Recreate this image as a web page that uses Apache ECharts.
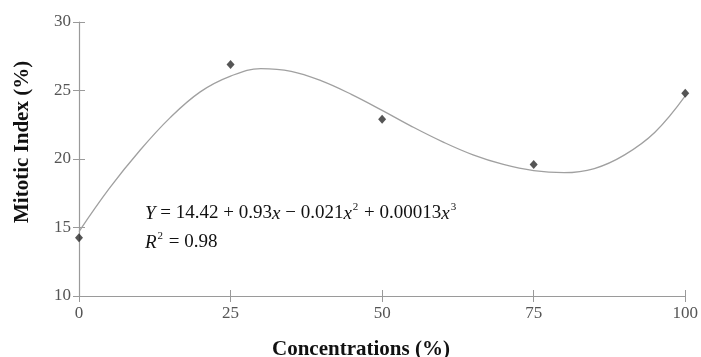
<!DOCTYPE html>
<html>
<head>
<meta charset="utf-8">
<script src="https://cdn.jsdelivr.net/npm/echarts@6/dist/echarts.min.js"></script>
<style>
  html, body { margin: 0; padding: 0; background: #fff; }
  #main { width: 701px; height: 357px; }
</style>
</head>
<body>
<div id="main"></div>
<script>
    // observed points
    var concentrations = [0, 25, 50, 75, 100];
    var mitoticIndex = [14.25, 26.9, 22.9, 19.6, 24.8];

    // fitted curve, every 5%
    var curveX = [0, 5, 10, 15, 20, 25, 30, 35, 40, 45, 50, 55, 60, 65, 70, 75, 80, 85, 90, 95, 100];
    var curveY = [14.7, 17.85, 20.6, 23.0, 24.9, 26.05, 26.6, 26.4, 25.7, 24.7, 23.55, 22.35, 21.25, 20.3, 19.6, 19.15, 19.0, 19.3, 20.3, 21.95, 24.6];

    var xTicks = [0, 25, 50, 75, 100];
    var yTicks = [10, 15, 20, 25, 30];

    var serif = 'Liberation Serif';

    var chart = echarts.init(document.getElementById('main'));

    var pts = concentrations.map(function (c, i) { return [c, mitoticIndex[i]]; });
    var fit = curveX.map(function (c, i) { return [c, curveY[i]]; });

    var axisBase = function (min, max, interval) {
        return {
            type: 'value',
            min: min,
            max: max,
            interval: interval,
            splitLine: { show: false }
        };
    };

    var xMain = axisBase(xTicks[0], xTicks[xTicks.length - 1], 25);
    xMain.axisLine = { lineStyle: { color: '#9a9a9a', width: 1.2 } };
    xMain.axisTick = { length: 6, lineStyle: { color: '#9a9a9a' } };
    xMain.axisLabel = { margin: 9, color: '#555', fontFamily: serif, fontSize: 17 };

    // second axis only to draw the inner half of the ticks
    var xInner = axisBase(xTicks[0], xTicks[xTicks.length - 1], 25);
    xInner.position = 'bottom';
    xInner.axisLine = { show: false };
    xInner.axisTick = { inside: true, length: 6, lineStyle: { color: '#9a9a9a' } };
    xInner.axisLabel = { show: false };

    var yMain = axisBase(yTicks[0], yTicks[yTicks.length - 1], 5);
    yMain.axisLine = { show: true, lineStyle: { color: '#9a9a9a', width: 1.2 } };
    yMain.axisTick = { show: true, length: 6, lineStyle: { color: '#9a9a9a' } };
    yMain.axisLabel = { margin: 8, color: '#555', fontFamily: serif, fontSize: 17 };

    var yInner = axisBase(yTicks[0], yTicks[yTicks.length - 1], 5);
    yInner.position = 'left';
    yInner.axisLine = { show: false };
    yInner.axisTick = { show: true, inside: true, length: 6, lineStyle: { color: '#9a9a9a' } };
    yInner.axisLabel = { show: false };

    var option = {
        animation: false,
        backgroundColor: '#fff',
        grid: { left: 79, right: 14, top: 22, bottom: 61 },
        xAxis: [xMain, xInner],
        yAxis: [yMain, yInner],
        series: [
            {
                name: 'fit',
                type: 'line',
                data: fit,
                smooth: 0.4,
                showSymbol: false,
                lineStyle: { color: '#a0a0a0', width: 1.3 },
                z: 2
            },
            {
                name: 'observed',
                type: 'scatter',
                data: pts,
                symbol: 'diamond',
                symbolSize: [8, 9],
                itemStyle: { color: '#2b2b2b' },
                z: 3
            }
        ],
        graphic: [
            {
                type: 'text',
                left: 145,
                top: 199,
                style: {
                    text: '{i|Y} = 14.42 + 0.93{i|x} − 0.021{i|x}{s|2} + 0.00013{i|x}{s|3}\n{i|R}{s|2} = 0.98',
                    font: '19px ' + serif,
                    fill: '#111',
                    lineHeight: 29,
                    rich: {
                        i: { fontFamily: serif, fontSize: 19, fontStyle: 'italic', fill: '#111' },
                        s: { fontFamily: serif, fontSize: 11, fill: '#111', padding: [0, 1, 12, 1] }
                    }
                }
            },
            {
                type: 'text',
                left: 272,
                top: 339,
                style: {
                    text: 'Concentrations (%)',
                    font: 'bold 21px ' + serif,
                    fill: '#111'
                }
            },
            {
                type: 'text',
                x: 12,
                y: 223,
                rotation: Math.PI / 2,
                style: {
                    text: 'Mitotic Index (%)',
                    font: 'bold 21px ' + serif,
                    fill: '#111'
                }
            }
        ]
    };

    chart.setOption(option);
</script>
</body>
</html>
